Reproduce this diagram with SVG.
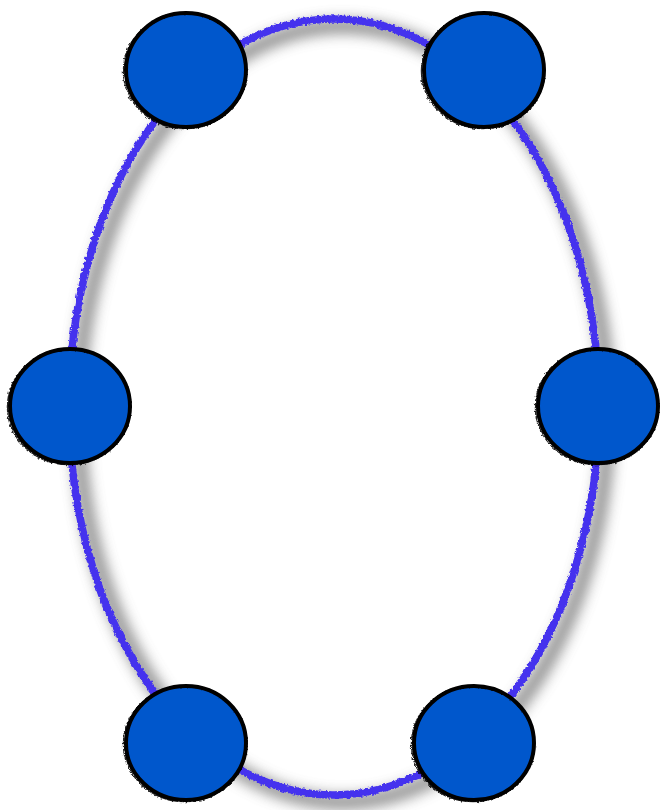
<svg xmlns="http://www.w3.org/2000/svg" width="668" height="810" viewBox="0 0 668 810">
<style>
.node-body{fill:#0057CC;stroke:#000;stroke-width:4}
.node-rough{fill:none;stroke:#000;stroke-width:1.5;opacity:0.85}
.ring{fill:none;stroke:#4433EE;stroke-width:7.5}
.ring-shadow{fill:none;stroke:#666;stroke-width:14;opacity:0.75}
</style>
<defs>
<filter id="shadow" x="-20%" y="-20%" width="140%" height="140%">
<feGaussianBlur stdDeviation="7"/>
</filter>
<filter id="rough" x="-10%" y="-10%" width="120%" height="120%">
<feTurbulence type="fractalNoise" baseFrequency="0.35" numOctaves="2" seed="3" result="n"/>
<feDisplacementMap in="SourceGraphic" in2="n" scale="4" xChannelSelector="R" yChannelSelector="G"/>
</filter>
</defs>
<rect width="668" height="810" fill="#fff"/>
<g id="connectors">
<ellipse class="ring-shadow" cx="343" cy="414" rx="265" ry="388" filter="url(#shadow)"/>
<ellipse class="ring" cx="334" cy="407" rx="265" ry="388" filter="url(#rough)"/>
</g>
<g id="node-top-left">
<ellipse cx="186" cy="70" rx="60" ry="57" class="node-body"/>
<ellipse cx="185" cy="71" rx="61.5" ry="57.5" class="node-rough" filter="url(#rough)"/>
</g>
<g id="node-top-right">
<ellipse cx="484" cy="70" rx="60" ry="57" class="node-body"/>
<ellipse cx="483" cy="71" rx="61.5" ry="57.5" class="node-rough" filter="url(#rough)"/>
</g>
<g id="node-left">
<ellipse cx="70" cy="406" rx="60" ry="57" class="node-body"/>
<ellipse cx="69" cy="407" rx="61.5" ry="57.5" class="node-rough" filter="url(#rough)"/>
</g>
<g id="node-right">
<ellipse cx="598" cy="406" rx="60" ry="57" class="node-body"/>
<ellipse cx="597" cy="407" rx="61.5" ry="57.5" class="node-rough" filter="url(#rough)"/>
</g>
<g id="node-bottom-left">
<ellipse cx="186" cy="743" rx="60" ry="57" class="node-body"/>
<ellipse cx="185" cy="744" rx="61.5" ry="57.5" class="node-rough" filter="url(#rough)"/>
</g>
<g id="node-bottom-right">
<ellipse cx="474" cy="743" rx="60" ry="57" class="node-body"/>
<ellipse cx="473" cy="744" rx="61.5" ry="57.5" class="node-rough" filter="url(#rough)"/>
</g>
</svg>
